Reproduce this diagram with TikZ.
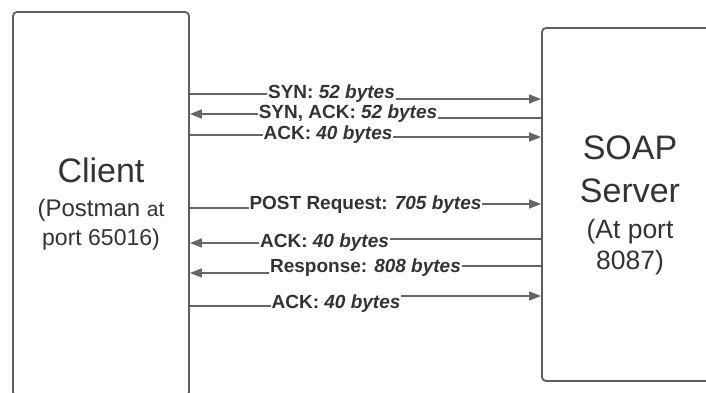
\documentclass[tikz,border=0pt]{standalone}
\usepackage{fontspec}
\setmainfont{Liberation Sans}
\usetikzlibrary{arrows.meta}
\definecolor{boxc}{HTML}{5E5E5E}
\definecolor{linec}{HTML}{666666}
\definecolor{txtc}{HTML}{333333}
\tikzset{
  party/.style={draw=boxc, line width=1.8pt, rounded corners=4pt, fill=white, inner sep=0pt},
  ptext/.style={anchor=base, text=txtc, inner sep=0pt},
  msg/.style={anchor=base, text=txtc, inner sep=0.6pt, font=\fontsize{19}{22}\selectfont\bfseries},
  seg/.style={draw=linec, line width=1.6pt},
  arr/.style={seg, -{Triangle[length=12pt,width=9pt]}},
}
\begin{document}
\begin{tikzpicture}[x=1pt,y=-1pt]
\useasboundingbox (0,0) rectangle (706,392);
\clip (0,0) rectangle (706,392);
% parties
\node[party, minimum width=176pt, minimum height=384pt] (client) at (101,204) {};
\node[party, minimum width=176pt, minimum height=353pt] (server) at (630,204.5) {};
% client text
\node[ptext, font=\fontsize{34}{40}\selectfont] (c1) at (101,182) {Client};
\node[ptext, font=\fontsize{24}{28}\selectfont] (c2) at (101,216) {(Postman {\fontsize{21}{24}\selectfont at}};
\node[ptext, font=\fontsize{23}{27}\selectfont] (c3) at (101,245) {port 65016)};
% server text
\node[ptext, font=\fontsize{34}{40}\selectfont] (s1) at (630,159) {SOAP};
\node[ptext, font=\fontsize{34}{40}\selectfont] (s2) at (630,202.5) {Server};
\node[ptext, font=\fontsize{26.5}{30}\selectfont] (s3) at (630,238) {(At port};
\node[ptext, font=\fontsize{26.5}{30}\selectfont] (s4) at (630,269) {8087)};
% message labels
\node[msg] (m1) at (331.5,98) {SYN: \textit{52 bytes}};
\node[msg] (m2) at (348,118) {SYN, ACK: \textit{52 bytes}};
\node[msg] (m3) at (328,139) {ACK: \textit{40 bytes}};
\node[msg] (m4) at (365.5,209) {POST Request: \textit{705 bytes}};
\node[msg] (m5) at (324.5,247) {ACK: \textit{40 bytes}};
\node[msg] (m6) at (365.5,272) {Response: \textit{808 bytes}};
\node[msg] (m7) at (336,308) {ACK: \textit{40 bytes}};
% connectors
\draw[seg] (client.east |- 0,94) -- (m1.west |- 0,94);
\draw[arr] (m1.east |- 0,99) -- (server.west |- 0,99);
\draw[seg] (server.west |- 0,118) -- (m2.east |- 0,118);
\draw[arr] (m2.west |- 0,114) -- (client.east |- 0,114);
\draw[seg] (client.east |- 0,135) -- (m3.west |- 0,135);
\draw[arr] (m3.east |- 0,137) -- (server.west |- 0,137);
\draw[seg] (client.east |- 0,208) -- (m4.west |- 0,208);
\draw[arr] (m4.east |- 0,204) -- (server.west |- 0,204);
\draw[seg] (server.west |- 0,239) -- (m5.east |- 0,239);
\draw[arr] (m5.west |- 0,243) -- (client.east |- 0,243);
\draw[seg] (server.west |- 0,266) -- (m6.east |- 0,266);
\draw[arr] (m6.west |- 0,273) -- (client.east |- 0,273);
\draw[seg] (client.east |- 0,306) -- (m7.west |- 0,306);
\draw[arr] (m7.east |- 0,296) -- (server.west |- 0,296);
\end{tikzpicture}
\end{document}
